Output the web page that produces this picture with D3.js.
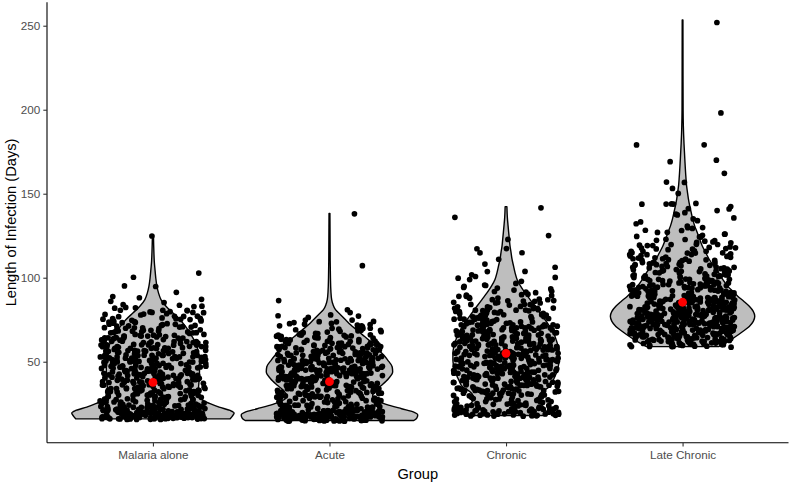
<!DOCTYPE html>
<html><head><meta charset="utf-8">
<script src="https://cdn.jsdelivr.net/npm/d3@7"></script>
<style>body{margin:0;background:#fff} svg{display:block}</style>
</head><body><svg id="c" width="790" height="483"></svg>
<script>
// ---------- DATA ----------
const groups = ["Malaria alone", "Acute", "Chronic", "Late Chronic"];
const yTicks = [50, 100, 150, 200, 250];

// number of animals per infection length (days), starting at the given day
const malariaStart = 16;
const malariaCounts = [23,26,25,22,18,14,12,10,9,9, 8,8,8,8,8,8,8,9,8,8, 9,8,8,9,8,8,9,8,8,8, 9,8,8,8,9,8,8,8,8,8, 8,7,8,7,8,6,7,6,7,6, 6,5,6,5,5,5,5,5,4,5, 4,4,3,4,3,3,3,2,2,1, 1,1,1,1];
const malariaTail = [91, 95, 95, 100, 103, 125];

const acuteStart = 15;
const acuteCounts = [21,25,26,23,20,16,13,10,9,8, 8,7,7,7,7,7,8,8,8,8, 9,9,9,9,10,10,10,10,10,12, 10,12,10,10,10,10,10,9,9,9, 8,8,8,8,7,7,6,6,6,5, 5,5,4,4,4,4,3,3,3,3, 2,1,2,1,1];
const acuteTail = [81, 86, 107, 138];

const chronicStart = 18;
const chronicCounts = [12,13,12,10,9,8,7,7,5,5, 5,5,7,7,7,7,8,8,8,8, 8,9,8,9,9,9,9,9,9,9, 9,9,9,9,9,9,9,9,9,9, 9,9,9,8,9,8,8,8,8,8, 8,8,7,7,7,6,6,6,6,5, 5,5,5,5,5,4,4,4,4,3, 3,3,3,2,2,2,2,2,1,1, 1,1,2,1,1];
const chronicTail = [104, 104, 106, 108, 111, 115, 115, 117, 117, 123, 125, 136, 142];

const lateStart = 59;
const lateCounts = [7,9,10,10,10,10,10,12,12,12, 12,13,12,13,13,13,13,13,13,13, 13,12,12,12,12,10,10,10,9,9, 9,9,8,8,8,8,8,7,7,6, 6,6,6,6,5,6,5,5,5,5, 5,4,5,4,4,4,4,4,4,4, 3,3,3,3,2,2,2,2,2,2, 1,2,1,1,1,1,1,1,1,1, 1,1,2,1];
const lateTail = [144, 144, 144, 144, 144, 150, 153, 157, 157, 162, 169, 170, 179, 179, 198, 252];

// red summary point per group (days)
const groupSummary = [37.7, 38.1, 55.0, 85.4];

// violin outlines: density (% of the widest violin) at given days
const malariaViolinDays = [16,17.5,19.5,21,23,25,27,29,31,35,39,45,51,55,59,63,67,71,75,79,83,87,91,95,100,105,110,115,120,125.3];
const malariaViolinDensity = [87.5,89.8,92,87.5,75,64.8,56.8,52.8,51.1,51.7,52.3,52.8,52.8,51.7,50,46.6,42,36.9,30.7,22.7,14.8,9.1,6.3,4.5,3.2,2.3,1.5,1.1,0.8,0.6];

const acuteViolinDays = [15,16.5,18.3,20,22,24,26,28,30,33,36,40,44,47,51,54,57,60,63,66,69,72,75,78,81,84,87,92,100,110,120,130,138.3];
const acuteViolinDensity = [95.5,98.9,100,95.5,81.8,68.2,56.8,50,48.9,52.3,59.1,67,71.6,71,65.9,61.4,55.7,50,44.3,37.5,30.7,23.9,18.2,12.5,6.8,4,2.5,1.6,1.1,0.8,0.7,0.6,0.5];

const chronicViolinDays = [18,20,22,24,26,28.5,31,33,35,39,43,47,51,55,59,63,67,71,75,79,83,87,91,95,99,103,107,111,115,119,123,127,131,136,142.3];
const chronicViolinDensity = [45.5,45.5,43.8,40.9,38.6,36.9,38.6,43.2,48.9,53.4,56.8,59.1,60.2,60.2,59.1,56.8,54,49.4,44.3,38.6,33,27.3,21.6,16.5,12.5,10.2,8.5,6.8,5.7,4.5,3.75,3,2.3,1.5,1];

const lateViolinDays = [59,61,63,65,68,71,74,77,80,83,86,89,92,95,99,103,107,111,115,119,123,127,131,135,139,143,147,151,155,160,170,180,190,200,220,240,253.4];
const lateViolinDensity = [40.9,47.7,54.5,60.2,68.2,75.6,80.1,81.8,80.1,75.6,69.3,62.5,56.8,51.1,45.5,40.9,35.2,30.1,26.1,22.2,19.3,16.5,13.6,11.4,9.7,8,6.6,5.5,4.5,3.75,2.6,1.6,0.9,0.6,0.5,0.45,0.4];

// ---------- BUILD ----------
function expand(start, counts, tail) {
  const out = [];
  counts.forEach((c, i) => { for (let k = 0; k < c; k++) out.push(start + i); });
  return out.concat(tail);
}
const groupValues = [
  expand(malariaStart, malariaCounts, malariaTail),
  expand(acuteStart, acuteCounts, acuteTail),
  expand(chronicStart, chronicCounts, chronicTail),
  expand(lateStart, lateCounts, lateTail)
];
const violins = [
  d3.zip(malariaViolinDays, malariaViolinDensity),
  d3.zip(acuteViolinDays, acuteViolinDensity),
  d3.zip(chronicViolinDays, chronicViolinDensity),
  d3.zip(lateViolinDays, lateViolinDensity)
];

const panel = {left: 47, right: 788.5, top: 2.2, bottom: 442.7};
const svg = d3.select("#c");

const x = d3.scalePoint().domain(groups).range([panel.left, panel.right]).padding(0.6);
const step = x.step();
const y = d3.scaleLinear().domain([1.8, 264]).range([panel.bottom, panel.top]);
const w = d3.scaleLinear().domain([0, 100]).range([0, step / 2]);

const font = "'Liberation Sans', Arial, Helvetica, sans-serif";

// violins
const area = d3.area()
  .curve(d3.curveMonotoneY)
  .y(d => y(d[0]))
  .x0(d => -w(d[1]))
  .x1(d => w(d[1]));

const gV = svg.append("g");
groups.forEach((g, i) => {
  gV.append("path")
    .attr("transform", `translate(${x(g)},0)`)
    .attr("d", area(violins[i]))
    .attr("fill", "#bebebe")
    .attr("stroke", "#000")
    .attr("stroke-width", 1.4)
    .attr("stroke-linejoin", "round");
});

// jittered points (geom_jitter: width 0.3, height 0.4)
const lcg = d3.randomLcg(0.3172);
const jx = d3.randomUniform.source(lcg)(-0.3, 0.3);
const jy = d3.randomUniform.source(lcg)(-0.4, 0.4);
const gP = svg.append("g");
groups.forEach((g, i) => {
  groupValues[i].forEach(v => {
    gP.append("circle")
      .attr("cx", x(g) + jx() * step)
      .attr("cy", y(v + jy()))
      .attr("r", 2.85)
      .attr("fill", "#000");
  });
});

// summary points
svg.append("g").selectAll("circle").data(groups).join("circle")
  .attr("cx", d => x(d))
  .attr("cy", (d, i) => y(groupSummary[i]))
  .attr("r", 4.4)
  .attr("fill", "#ff0000");

// axes
const yAxis = d3.axisLeft(y).tickValues(yTicks).tickSize(3.7).tickPadding(3);
const gy = svg.append("g").attr("transform", `translate(${panel.left},0)`).call(yAxis);
gy.select(".domain").attr("d", `M0,${panel.top}V${panel.bottom}`).attr("stroke", "#000").attr("stroke-width", 1.1);
gy.selectAll(".tick line").attr("stroke", "#333").attr("stroke-width", 1.1);
gy.selectAll(".tick text").attr("fill", "#4d4d4d").style("font-family", font).style("font-size", "11.7px");

const xAxis = d3.axisBottom(x).tickSize(3.7).tickPadding(4);
const gx = svg.append("g").attr("transform", `translate(0,${panel.bottom})`).call(xAxis);
gx.select(".domain").attr("d", `M${panel.left},0H${panel.right}`).attr("stroke", "#000").attr("stroke-width", 1.1);
gx.selectAll(".tick line").attr("stroke", "#333").attr("stroke-width", 1.1);
gx.selectAll(".tick text").attr("fill", "#4d4d4d").style("font-family", font).style("font-size", "11.7px");

// titles
svg.append("text")
  .attr("x", (panel.left + panel.right) / 2).attr("y", 479)
  .attr("text-anchor", "middle")
  .style("font-family", font).style("font-size", "14.67px").attr("fill", "#000")
  .text("Group");
svg.append("text")
  .attr("transform", `translate(15.5,${(panel.top + panel.bottom) / 2}) rotate(-90)`)
  .attr("text-anchor", "middle")
  .style("font-family", font).style("font-size", "14.67px").attr("fill", "#000")
  .text("Length of Infection (Days)");
</script></body></html>
